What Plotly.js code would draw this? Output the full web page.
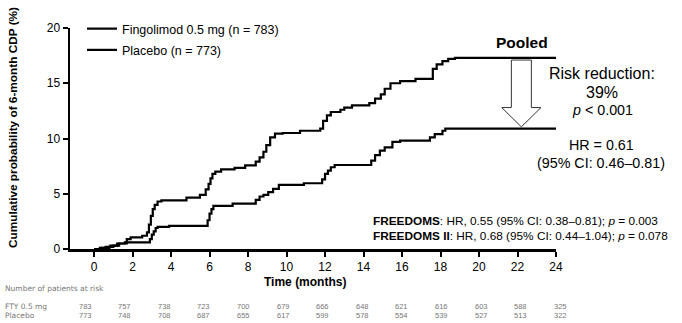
<!DOCTYPE html>
<html>
<head>
<meta charset="utf-8">
<script src="https://cdn.plot.ly/plotly-3.0.1.min.js"></script>
<style>html,body{margin:0;padding:0;background:#fff;}#chart{width:682px;height:323px;}</style>
</head>
<body>
<div id="chart"></div>
<script>
// ---- data ----
var placeboT = [0, 0.3, 0.6, 0.85, 1.2, 1.7, 1.9, 2.5, 2.75, 2.85, 2.95, 3.05, 3.15, 3.3, 3.5, 4.8, 5.5, 5.8, 5.95, 6.05, 6.15, 6.3, 6.6, 7.3, 7.85, 8.4, 8.6, 8.8, 8.95, 9.15, 9.4, 9.8, 10.7, 11.75, 11.9, 12.1, 12.3, 12.8, 13.0, 13.4, 14.3, 14.6, 14.9, 15.1, 15.4, 15.9, 16.7, 17.6, 17.8, 18.1, 18.4, 18.75, 24];
var placeboV = [0, 0.1, 0.2, 0.3, 0.5, 0.9, 1.05, 1.2, 1.5, 2.2, 3.0, 3.6, 4.0, 4.3, 4.4, 4.65, 4.9, 5.4, 5.9, 6.4, 6.8, 7.0, 7.2, 7.35, 7.57, 7.9, 8.3, 8.8, 9.4, 10.1, 10.45, 10.5, 10.7, 10.9, 11.6, 12.1, 12.4, 12.6, 12.8, 13.0, 13.2, 13.6, 14.0, 14.5, 15.0, 15.2, 15.4, 16.3, 16.7, 17.0, 17.2, 17.3, 17.3];
var fingoT = [0, 0.4, 0.8, 1.0, 1.3, 1.6, 2.9, 3.0, 3.1, 3.2, 3.3, 3.9, 5.9, 6.0, 6.1, 6.2, 7.2, 8.4, 8.6, 8.8, 9.05, 9.3, 9.6, 10.9, 11.85, 12.0, 12.15, 12.3, 12.5, 14.4, 14.6, 14.85, 15.1, 15.5, 15.9, 17.45, 17.7, 18.1, 18.25, 24];
var fingoV = [0, 0.1, 0.2, 0.3, 0.5, 0.6, 0.9, 1.3, 1.6, 1.9, 2.0, 2.1, 2.6, 3.2, 3.6, 3.9, 4.1, 4.45, 4.75, 4.9, 5.15, 5.45, 5.8, 5.95, 6.3, 6.8, 7.1, 7.4, 7.6, 8.0, 8.5, 8.9, 9.2, 9.7, 9.8, 10.1, 10.4, 10.7, 10.9, 10.9];
var xTicks = [0, 2, 4, 6, 8, 10, 12, 14, 16, 18, 20, 22, 24];
var yTicks = [0, 5, 10, 15, 20];
var atRiskFTY = [783, 757, 738, 723, 700, 679, 666, 648, 621, 616, 603, 588, 325];
var atRiskPlacebo = [773, 748, 708, 687, 655, 617, 599, 578, 554, 539, 527, 513, 322];
var seriesNames = ['Fingolimod 0.5 mg (n = 783)', 'Placebo (n = 773)'];

var FONT = 'Liberation Sans, Arial, sans-serif';
var W = 682, H = 323, L = 70, R = 126, T = 28, B = 74;
var pw = W - L - R, ph = H - T - B;
function px2x(px){ return (px - L) / pw; }
function py2y(py){ return (H - B - py) / ph; }

var traces = [
  {x: fingoT, y: fingoV, name: seriesNames[0], mode: 'lines', line: {shape: 'hv', color: '#000', width: 2.2}, legendgroup: 'a', hoverinfo: 'skip'},
  {x: placeboT, y: placeboV, name: seriesNames[1], mode: 'lines', line: {shape: 'hv', color: '#000', width: 2.2}, legendgroup: 'b', hoverinfo: 'skip'}
];

var ann = [];
function addText(text, px, py, size, opts){
  var a = Object.assign({text: text, xref: 'paper', yref: 'paper', x: px2x(px), y: py2y(py), showarrow: false,
    font: {family: FONT, size: size, color: '#000'}, xanchor: 'center', yanchor: 'middle'}, opts || {});
  ann.push(a);
}
var GREY = '#777';
addText('<b>Cumulative probability of 6-month CDP (%)</b>', 13, 128, 11.8, {textangle: -90});
addText('<b>Time (months)</b>', 305, 282, 12);
addText('<b>Pooled</b>', 522, 42, 15.5);
addText('Risk reduction:', 602, 73, 16);
addText('39%', 602, 93, 16);
addText('<i>p</i> < 0.001', 602, 110, 14.3);
addText('HR = 0.61', 601, 145, 14.3);
addText('(95% CI: 0.46–0.81)', 601, 163, 14.3);
addText('<b>FREEDOMS</b>: HR, 0.55 (95% CI: 0.38–0.81); <i>p</i> = 0.003', 371, 221, 11.8, {xanchor: 'left'});
addText('<b>FREEDOMS II</b>: HR, 0.68 (95% CI: 0.44–1.04); <i>p</i> = 0.078', 371, 236, 11.8, {xanchor: 'left'});
var lblFont = {family: 'DejaVu Sans, sans-serif', size: 7.5, color: GREY};
addText('Number of patients at risk', 3, 288, 7.5, {xanchor: 'left', font: lblFont});
addText('FTY 0.5 mg', 3, 306, 7.5, {xanchor: 'left', font: lblFont});
addText('Placebo', 3, 315, 7.5, {xanchor: 'left', font: lblFont});
var numFont = {family: FONT, size: 7.5, color: GREY};
for (var i = 0; i < atRiskFTY.length; i++) {
  var cx = 85 + i * 39.6;
  addText(String(atRiskFTY[i]), cx, 306, 7.5, {font: numFont});
  addText(String(atRiskPlacebo[i]), cx, 315, 7.5, {font: numFont});
}

// hollow arrow between the two plateau lines
var ax0 = 22.2, sh = 0.52, hw = 1.02, yTop = 17.1, yHead = 12.8, yTip = 11.05;
var arrowPath = 'M' + (ax0 - sh) + ',' + yTop + ' L' + (ax0 + sh) + ',' + yTop + ' L' + (ax0 + sh) + ',' + yHead +
  ' L' + (ax0 + hw) + ',' + yHead + ' L' + ax0 + ',' + yTip + ' L' + (ax0 - hw) + ',' + yHead +
  ' L' + (ax0 - sh) + ',' + yHead + ' Z';

var layout = {
  width: W, height: H,
  margin: {l: L, r: R, t: T, b: B},
  paper_bgcolor: '#fff', plot_bgcolor: '#fff',
  showlegend: true,
  legend: {x: px2x(82), y: py2y(14), xanchor: 'left', yanchor: 'top', bgcolor: 'rgba(0,0,0,0)',
    font: {family: FONT, size: 12.5, color: '#000'}, tracegroupgap: 2},
  xaxis: {range: [-1.25, 24], tickvals: xTicks, ticktext: xTicks.map(String), showline: true, linecolor: '#000', linewidth: 2.5,
    ticks: 'outside', ticklen: 5, tickwidth: 2, tickcolor: '#000', showgrid: false, zeroline: false,
    tickfont: {family: FONT, size: 12, color: '#000'}, fixedrange: true},
  yaxis: {range: [0, 20], tickvals: yTicks, showline: true, linecolor: '#000', linewidth: 2.5,
    ticks: 'outside', ticklen: 5, tickwidth: 2, tickcolor: '#000', showgrid: false, zeroline: false,
    tickfont: {family: FONT, size: 12, color: '#000'}, fixedrange: true},
  annotations: ann,
  shapes: [{type: 'path', xref: 'x', yref: 'y', path: arrowPath, fillcolor: '#fff', line: {color: '#333', width: 1}}]
};

Plotly.newPlot('chart', traces, layout, {staticPlot: true, displayModeBar: false});
</script>
</body>
</html>
